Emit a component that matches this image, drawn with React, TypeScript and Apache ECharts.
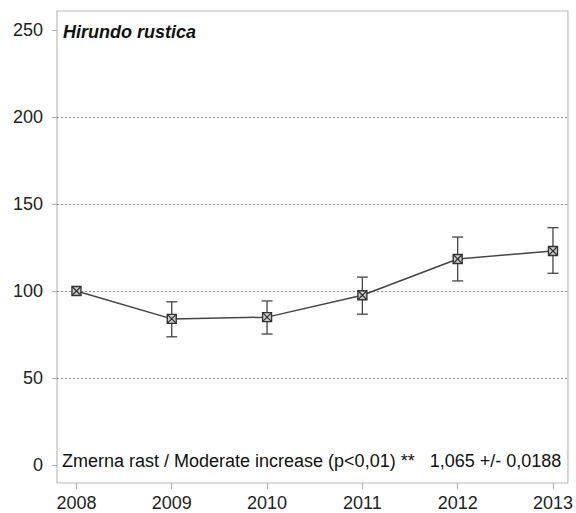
import React, { useEffect, useRef } from "react";
import * as echarts from "echarts";

const years = [2008, 2009, 2010, 2011, 2012, 2013];
const indexValues = [100, 84, 85, 97.6, 118.4, 123];
const lowerValues = [null, 73.7, 75.3, 86.7, 105.8, 110.2];
const upperValues = [null, 93.8, 94.3, 108, 131, 136.4];
const yTicks = [0, 50, 100, 150, 200, 250];
const gridLineValues = [50, 100, 150, 200];
const titleText = "Hirundo rustica";
const trendText = "Zmerna rast / Moderate increase (p<0,01) **   1,065 +/- 0,0188";

const FONT = "Liberation Sans, Arial, sans-serif";

export default function App() {
  const ref = useRef<HTMLDivElement>(null);
  useEffect(() => {
    document.body.style.margin = "0";
    const chart = echarts.init(ref.current!, null, { renderer: "svg" });
    const lineData = years.map((y, i) => [y, indexValues[i]]);
    const errData = years
      .map((y, i) => [y, lowerValues[i], upperValues[i]])
      .filter((d) => d[1] != null);
    const option: any = {
      animation: false,
      backgroundColor: "#fff",
      grid: {
        left: 57,
        right: 7,
        top: 11,
        bottom: 30,
        show: true,
        borderColor: "#bbb",
        borderWidth: 1.2,
        backgroundColor: "#fff",
      },
      xAxis: {
        type: "value",
        min: 2007.796,
        max: 2013.157,
        axisLine: { show: false, onZero: false },
        axisTick: {
          show: true,
          length: 6,
          customValues: years,
          lineStyle: { color: "#aaa" },
        },
        splitLine: { show: false },
        axisLabel: {
          customValues: years,
          margin: 11,
          fontSize: 18,
          color: "#222",
          fontFamily: FONT,
          formatter: (v: number) => String(v),
        },
      },
      yAxis: {
        type: "value",
        min: -10.3,
        max: 260.9,
        axisLine: { show: false, onZero: false },
        axisTick: {
          show: true,
          length: 5,
          customValues: yTicks,
          lineStyle: { color: "#aaa" },
        },
        axisLabel: {
          customValues: yTicks,
          margin: 14,
          fontSize: 18,
          color: "#222",
          fontFamily: FONT,
        },
        splitLine: { show: false },
      },
      graphic: [
        {
          type: "text",
          x: 63,
          y: 32,
          z: 10,
          style: {
            text: titleText,
            fontSize: 18,
            fontWeight: "bold",
            fontStyle: "italic",
            fontFamily: FONT,
            fill: "#111",
            textVerticalAlign: "middle",
          },
        },
        {
          type: "text",
          x: 62,
          y: 461,
          z: 10,
          style: {
            text: trendText,
            fontSize: 18,
            fontFamily: FONT,
            fill: "#111",
            textVerticalAlign: "middle",
          },
        },
      ],
      series: [
        {
          type: "line",
          data: lineData,
          symbol: "none",
          lineStyle: { color: "#444", width: 1.5 },
          z: 2,
          markLine: {
            silent: true,
            symbol: "none",
            label: { show: false },
            lineStyle: { type: [2, 2], color: "#888", width: 1 },
            data: gridLineValues.map((v) => ({ yAxis: v })),
            z: 1,
          },
        },
        {
          type: "custom",
          data: errData,
          z: 3,
          renderItem: (params: any, api: any) => {
            const x = api.value(0);
            const lo = api.coord([x, api.value(1)]);
            const hi = api.coord([x, api.value(2)]);
            const w = 5.5;
            const st = { stroke: "#444", lineWidth: 1.3 };
            return {
              type: "group",
              children: [
                { type: "line", shape: { x1: lo[0], y1: lo[1], x2: hi[0], y2: hi[1] }, style: st },
                { type: "line", shape: { x1: lo[0] - w, y1: lo[1], x2: lo[0] + w, y2: lo[1] }, style: st },
                { type: "line", shape: { x1: hi[0] - w, y1: hi[1], x2: hi[0] + w, y2: hi[1] }, style: st },
              ],
            };
          },
        },
        {
          type: "custom",
          data: lineData,
          z: 4,
          renderItem: (params: any, api: any) => {
            const p = api.coord([api.value(0), api.value(1)]);
            const s = 4.5;
            const st = { stroke: "#333", lineWidth: 1.2 };
            return {
              type: "group",
              children: [
                {
                  type: "rect",
                  shape: { x: p[0] - s, y: p[1] - s, width: 2 * s, height: 2 * s },
                  style: { fill: "#ccc", stroke: "#333", lineWidth: 1.4 },
                },
                { type: "line", shape: { x1: p[0] - s, y1: p[1] - s, x2: p[0] + s, y2: p[1] + s }, style: st },
                { type: "line", shape: { x1: p[0] - s, y1: p[1] + s, x2: p[0] + s, y2: p[1] - s }, style: st },
              ],
            };
          },
        },
      ],
    };
    chart.setOption(option);
    return () => chart.dispose();
  }, []);
  return <div ref={ref} style={{ width: 576, height: 513 }} />;
}
